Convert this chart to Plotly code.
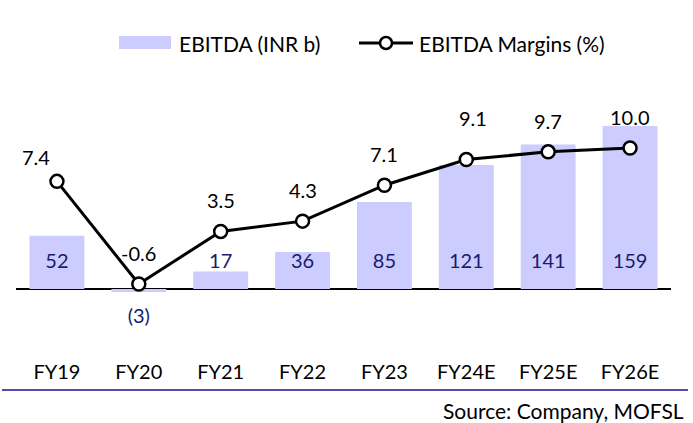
import plotly.graph_objects as go

# ---- data ----
categories = ["FY19", "FY20", "FY21", "FY22", "FY23", "FY24E", "FY25E", "FY26E"]
ebitda = [52, -3, 17, 36, 85, 121, 141, 159]
margins = [7.4, -0.6, 3.5, 4.3, 7.1, 9.1, 9.7, 10.0]
ebitda_labels = ["52", "(3)", "17", "36", "85", "121", "141", "159"]
margin_labels = ["7.4", "-0.6", "3.5", "4.3", "7.1", "9.1", "9.7", "10.0"]

# ---- layout constants (pixels) ----
W, H = 693, 423
T, B = 60, 358          # plot area top / bottom
L, R = 16, 671          # plot area left / right
PH = B - T
ZERO_BAR = 289          # pixel row of bar zero
BAR_PPU = 1.025         # pixels per bar unit
LINE_ZERO = 276.3       # pixel row of margin zero
LINE_PPU = 12.83        # pixels per margin unit

bar_range = [-(B - ZERO_BAR) / BAR_PPU, (ZERO_BAR - T) / BAR_PPU]
line_range = [-(B - LINE_ZERO) / LINE_PPU, (LINE_ZERO - T) / LINE_PPU]

FONT = "Lato"
NAVY = "#1a1a70"
BAR_COLOR = "#ccccff"

pos_label_y = 26 / BAR_PPU
neg_label_y = -29 / BAR_PPU

fig = go.Figure()
fig.add_trace(go.Bar(
    x=categories, y=ebitda, marker=dict(color=BAR_COLOR, line=dict(width=0)),
    yaxis="y", showlegend=False, hoverinfo="skip"))
fig.add_trace(go.Scatter(
    x=categories, y=[pos_label_y if v >= 0 else neg_label_y for v in ebitda],
    mode="text", text=ebitda_labels, textfont=dict(family=FONT, size=20, color=NAVY),
    yaxis="y", showlegend=False, hoverinfo="skip"))
fig.add_trace(go.Scatter(
    x=categories, y=margins, mode="lines+markers", yaxis="y2",
    line=dict(color="black", width=3),
    marker=dict(symbol="circle", size=13, color="white", line=dict(color="black", width=2.5)),
    showlegend=False, hoverinfo="skip"))

# margin labels
shifts = {"FY19": (-21, 24), "FY24E": (7, 42)}
for c, v, t in zip(categories, margins, margin_labels):
    xs, ys = shifts.get(c, (0, 31))
    fig.add_annotation(x=c, y=v, yref="y2", text=t, showarrow=False,
                       xshift=xs, yshift=ys, font=dict(family=FONT, size=20, color="black"))

# custom legend
def px_x(p):
    return (p - L) / (R - L)

def px_y(p):
    return (B - p) / PH

shapes = [
    dict(type="rect", xref="paper", yref="paper", x0=px_x(119), x1=px_x(171),
         y0=px_y(49), y1=px_y(36), fillcolor=BAR_COLOR, line=dict(width=0)),
    dict(type="line", xref="paper", yref="paper", x0=px_x(359), x1=px_x(413),
         y0=px_y(43), y1=px_y(43), line=dict(color="black", width=3)),
    dict(type="circle", xref="paper", yref="paper", x0=px_x(380), x1=px_x(392),
         y0=px_y(49), y1=px_y(37), fillcolor="white", line=dict(color="black", width=2.5)),
    dict(type="line", xref="paper", yref="paper", x0=px_x(2), x1=px_x(688),
         y0=px_y(390), y1=px_y(390), line=dict(color="#1a1090", width=1.5)),
]
fig.add_annotation(xref="paper", yref="paper", x=px_x(177), y=px_y(43), xanchor="left",
                   yanchor="middle", text="EBITDA (INR b)", showarrow=False,
                   font=dict(family=FONT, size=21, color="black"))
fig.add_annotation(xref="paper", yref="paper", x=px_x(417), y=px_y(43), xanchor="left",
                   yanchor="middle", text="EBITDA Margins (%)", showarrow=False,
                   font=dict(family=FONT, size=21, color="black"))
fig.add_annotation(xref="paper", yref="paper", x=px_x(686), y=px_y(410), xanchor="right",
                   yanchor="middle", text="Source: Company, MOFSL", showarrow=False,
                   font=dict(family=FONT, size=21, color="black"))

fig.update_layout(
    width=W, height=H,
    margin=dict(l=L, r=W - R, t=T, b=H - B, autoexpand=False),
    paper_bgcolor="white", plot_bgcolor="white",
    bargap=0.33,
    shapes=shapes,
    xaxis=dict(type="category", showline=False, showgrid=False, ticks="",
               tickfont=dict(family=FONT, size=20, color="black")),
    yaxis=dict(range=bar_range, showticklabels=False, showgrid=False, zeroline=True,
               zerolinecolor="black", zerolinewidth=1.5, showline=False),
    yaxis2=dict(range=line_range, overlaying="y", showticklabels=False, showgrid=False,
                zeroline=False, showline=False),
    showlegend=False,
)

fig.write_html("out.html", config={"displayModeBar": False},
               post_script="document.body.style.margin='0';document.body.style.overflow='hidden';")
